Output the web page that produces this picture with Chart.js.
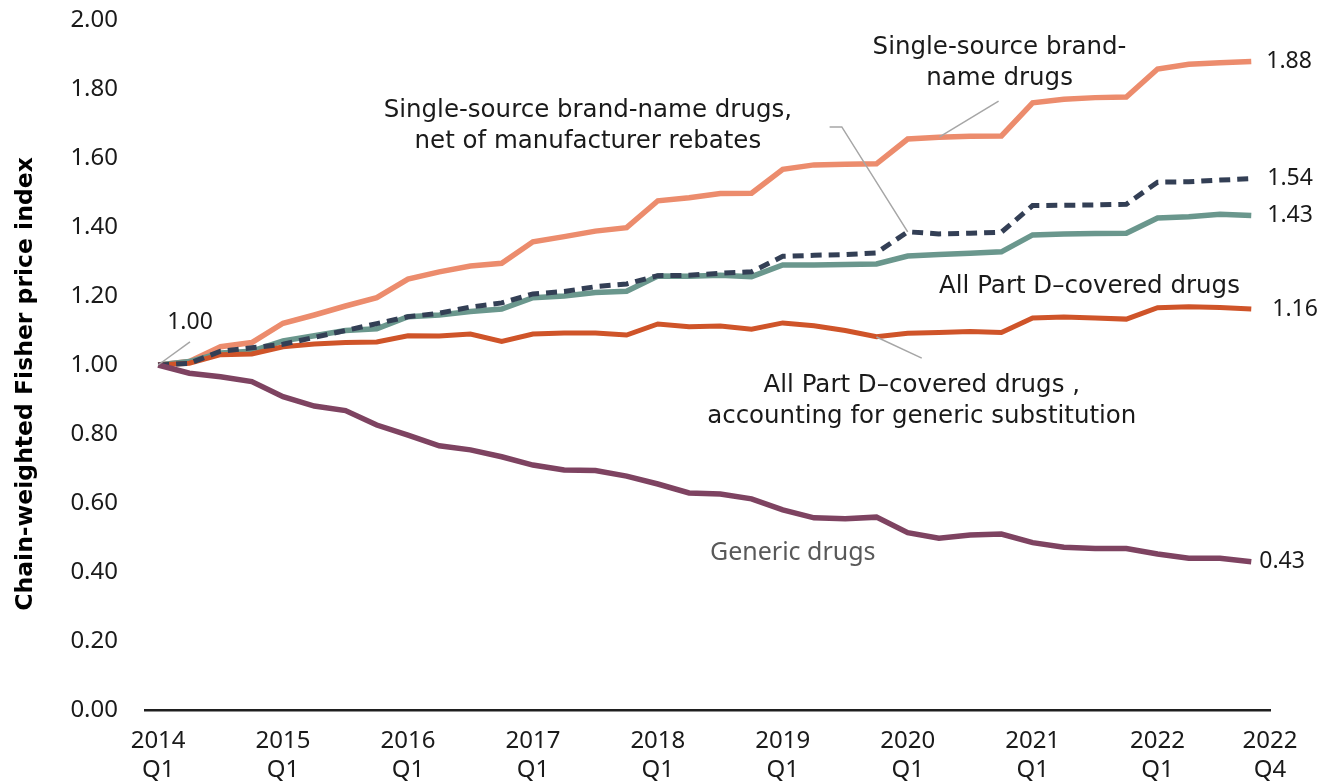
<!DOCTYPE html>
<html>
<head>
<meta charset="utf-8">
<script src="https://cdn.jsdelivr.net/npm/chart.js@4/dist/chart.umd.min.js"></script>
<style>
  html, body { margin: 0; padding: 0; background: #fff; }
  #wrap { width: 1322px; height: 784px; }
</style>
</head>
<body>
<div id="wrap"><canvas id="canvas"></canvas></div>
<script>
// quarters 2014 Q1 .. 2022 Q4 (index 0..35)
var tickIndex = [0, 4, 8, 12, 16, 20, 24, 28, 32, 35];
var tickLabels = [['2014', 'Q1'], ['2015', 'Q1'], ['2016', 'Q1'], ['2017', 'Q1'], ['2018', 'Q1'],
                  ['2019', 'Q1'], ['2020', 'Q1'], ['2021', 'Q1'], ['2022', 'Q1'], ['2022', 'Q4']];

var brandName = [1.00, 1.01, 1.053, 1.065, 1.121, 1.145, 1.171, 1.195, 1.249, 1.27, 1.287, 1.295,
                 1.357, 1.372, 1.388, 1.398, 1.476, 1.485, 1.497, 1.498, 1.567, 1.58, 1.582, 1.583,
                 1.655, 1.66, 1.663, 1.664, 1.76, 1.77, 1.775, 1.777, 1.858, 1.872, 1.876, 1.88];
var netRebates = [1.00, 1.005, 1.04, 1.05, 1.06, 1.08, 1.10, 1.12, 1.14, 1.15, 1.168, 1.18,
                  1.206, 1.213, 1.227, 1.235, 1.259, 1.26, 1.266, 1.27, 1.315, 1.318, 1.32, 1.325,
                  1.386, 1.38, 1.382, 1.385, 1.462, 1.463, 1.464, 1.466, 1.53, 1.531, 1.536, 1.54];
var allPartD = [1.00, 1.01, 1.035, 1.04, 1.07, 1.085, 1.10, 1.105, 1.14, 1.145, 1.155, 1.162,
                1.195, 1.2, 1.21, 1.214, 1.258, 1.257, 1.26, 1.256, 1.29, 1.29, 1.291, 1.293,
                1.316, 1.32, 1.324, 1.328, 1.377, 1.38, 1.381, 1.382, 1.426, 1.43, 1.437, 1.433];
var genericSubst = [1.00, 1.005, 1.03, 1.032, 1.053, 1.061, 1.065, 1.067, 1.085, 1.084, 1.09, 1.068,
                    1.09, 1.093, 1.093, 1.087, 1.119, 1.111, 1.113, 1.104, 1.122, 1.114, 1.10, 1.082,
                    1.092, 1.094, 1.097, 1.094, 1.136, 1.139, 1.136, 1.133, 1.166, 1.169, 1.167, 1.162];
var generic = [1.00, 0.976, 0.966, 0.952, 0.908, 0.881, 0.868, 0.826, 0.797, 0.766, 0.754, 0.734,
               0.71, 0.696, 0.694, 0.678, 0.655, 0.629, 0.626, 0.612, 0.58, 0.557, 0.554, 0.559,
               0.514, 0.498, 0.507, 0.51, 0.485, 0.472, 0.468, 0.468, 0.452, 0.44, 0.44, 0.43];

var FONT = "'Noto Sans', sans-serif";
var NOTE_FONT = "'DejaVu Sans', sans-serif";
var yTitle = 'Chain-weighted Fisher price index';

function pts(arr) {
  return arr.map(function (v, i) { return { x: i, y: v }; });
}

// text notes, placed in data units (x = quarter index, y = index value)
var notes = [
  { x: 1.02, y: 1.122, lines: ['1.00'], color: '#1a1a1a', font: '23px ' + FONT, line: [[0, 1.0], [1.02, 1.067]] },
  { x: 13.76, y: 1.736, lines: ['Single-source brand-name drugs,', 'net of manufacturer rebates'], color: '#1a1a1a',
    line: [[21.5, 1.69], [21.89, 1.69], [24, 1.386]] },
  { x: 26.94, y: 1.919, lines: ['Single-source brand-', 'name drugs'], color: '#1a1a1a',
    line: [[26.91, 1.765], [25.02, 1.661]] },
  { x: 29.82, y: 1.226, lines: ['All Part D\u2013covered drugs'], color: '#1a1a1a' },
  { x: 24.45, y: 0.939, lines: ['All Part D\u2013covered drugs ,', 'accounting for generic substitution'], color: '#1a1a1a',
    line: [[23.0, 1.081], [24.45, 1.020]] },
  { x: 20.32, y: 0.455, lines: ['Generic drugs'], color: '#595959', font: '25px ' + FONT }
];

var annotate = {
  id: 'annotate',
  afterDatasetsDraw: function (chart) {
    var ctx = chart.ctx, xs = chart.scales.x, ys = chart.scales.y;
    ctx.save();
    notes.forEach(function (n) {
      if (n.line) {
        ctx.strokeStyle = '#a6a6a6';
        ctx.lineWidth = 1.5;
        ctx.beginPath();
        n.line.forEach(function (p, k) {
          var px = xs.getPixelForValue(p[0]), py = ys.getPixelForValue(p[1]);
          if (k === 0) ctx.moveTo(px, py); else ctx.lineTo(px, py);
        });
        ctx.stroke();
      }
    });
    ctx.textAlign = 'center';
    ctx.textBaseline = 'middle';
    notes.forEach(function (n) {
      ctx.font = n.font || ('24.5px ' + NOTE_FONT);
      ctx.fillStyle = n.color;
      var cx = xs.getPixelForValue(n.x), cy = ys.getPixelForValue(n.y);
      n.lines.forEach(function (t, k) { ctx.fillText(t, cx, cy + k * 31); });
    });
    // end-of-line values
    ctx.font = '23px ' + FONT;
    ctx.textAlign = 'left';
    ctx.fillStyle = '#1a1a1a';
    chart.data.datasets.forEach(function (ds) {
      var last = ds.data[ds.data.length - 1];
      ctx.fillText(last.y.toFixed(2), xs.getPixelForValue(last.x) + ds.endGap, ys.getPixelForValue(last.y));
    });
    // y axis title
    ctx.translate(26, ys.getPixelForValue(0.945));
    ctx.rotate(-Math.PI / 2);
    ctx.textAlign = 'center';
    ctx.fillStyle = '#000';
    ctx.font = 'bold 23.5px ' + NOTE_FONT;
    ctx.fillText(yTitle, 0, 0);
    ctx.restore();
  }
};

var options = {
  type: 'line',
  data: {
    datasets: [
      { label: 'Generic drugs', data: pts(generic), borderColor: '#7e4361', borderWidth: 5.5, order: 1, endGap: 8 },
      { label: 'Single-source brand-name drugs, net of manufacturer rebates', data: pts(netRebates),
        borderColor: '#333f55', borderWidth: 5, borderDash: [11, 7], order: 2, endGap: 16 },
      { label: 'All Part D-covered drugs, accounting for generic substitution', data: pts(genericSubst),
        borderColor: '#cf5429', borderWidth: 5, order: 3, endGap: 21 },
      { label: 'All Part D-covered drugs', data: pts(allPartD), borderColor: '#6a978d', borderWidth: 5.5, order: 4, endGap: 16 },
      { label: 'Single-source brand-name drugs', data: pts(brandName), borderColor: '#ec8c6d', borderWidth: 5.5, order: 5, endGap: 15 }
    ]
  },
  options: {
    responsive: true,
    maintainAspectRatio: false,
    animation: false,
    events: [],
    layout: { padding: { top: 20, right: 52, bottom: 0, left: 0 } },
    elements: {
      point: { radius: 0 },
      line: { tension: 0, fill: false, borderJoinStyle: 'miter', borderCapStyle: 'butt' }
    },
    plugins: {
      legend: { display: false },
      tooltip: { enabled: false }
    },
    scales: {
      x: {
        type: 'linear',
        min: -0.42,
        max: 35.6,
        grid: { display: false, drawTicks: false },
        border: { display: true, color: '#1f1f1f', width: 2.5 },
        afterBuildTicks: function (axis) {
          axis.ticks = tickIndex.map(function (v, k) {
            return { value: k === tickIndex.length - 1 ? axis.max : v };
          });
        },
        afterFit: function (axis) { axis.height = 74; },
        ticks: {
          autoSkip: false,
          maxRotation: 0,
          padding: 17,
          color: '#1a1a1a',
          font: { family: FONT, size: 24, lineHeight: 1.2 },
          callback: function (v, k) { return tickLabels[k]; }
        }
      },
      y: {
        min: 0,
        max: 2,
        grid: { display: false, drawTicks: false },
        border: { display: false },
        afterFit: function (axis) {
          axis.width = 145;
          axis.paddingTop = 0;
          axis.paddingBottom = 0;
        },
        ticks: {
          stepSize: 0.2,
          padding: 27,
          color: '#1a1a1a',
          font: { family: FONT, size: 24 },
          callback: function (v) { return v.toFixed(2); }
        }
      }
    }
  },
  plugins: [annotate]
};

var ctx = document.getElementById('canvas').getContext('2d');
new Chart(ctx, options);
</script>
</body>
</html>
